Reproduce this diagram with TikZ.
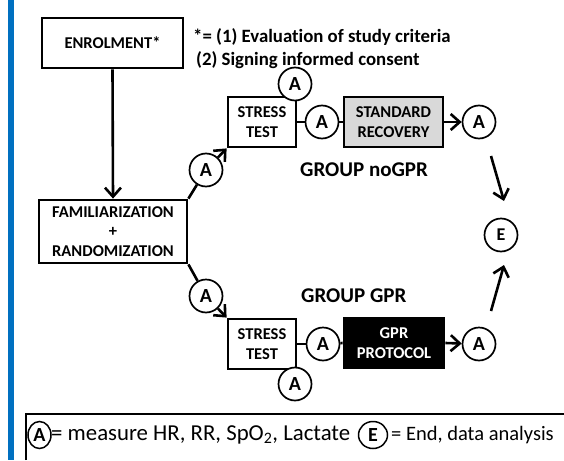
\documentclass[tikz,border=0pt]{standalone}
\usepackage{fontspec}
\setmainfont{Carlito}[Ligatures={NoCommon}]
\usetikzlibrary{arrows.meta,shapes.geometric}
\definecolor{barblue}{HTML}{0070C0}
\definecolor{recgray}{HTML}{D9D9D9}
\newcommand{\boxfont}{\bfseries\fontsize{16.5}{19.5}\selectfont}
\tikzset{
  stagebox/.style={draw, line width=2.8pt, align=center, inner sep=0pt, font=\boxfont},
  meas/.style={circle, draw, line width=1.7pt, fill=white, minimum size=33pt, inner sep=0pt, font=\bfseries\fontsize{20}{20}\selectfont},
  conn/.style={line width=2.6pt},
  arr/.style={conn, -{Straight Barb[length=9pt,width=16pt]}},
  grouplab/.style={anchor=west, inner sep=0pt, font=\bfseries\fontsize{21}{21}\selectfont},
  notelab/.style={anchor=west, inner sep=0pt, font=\bfseries\fontsize{18.8}{18.8}\selectfont},
  legtext/.style={anchor=west, inner sep=0pt, font=\fontsize{22.8}{22.8}\selectfont},
  legmark/.style={ellipse, draw, line width=1.5pt, inner sep=0pt, font=\bfseries\fontsize{20}{20}\selectfont}
}
\begin{document}
\begin{tikzpicture}[x=1pt,y=-1pt]
\useasboundingbox (0,0) rectangle (564,460);
\fill[white] (0,0) rectangle (564,460);
\fill[barblue] (8,0) rectangle (14,460);

% boxes
\node[stagebox, minimum width=141pt, minimum height=50pt] (enrol) at (112.5,43) {ENROLMENT*};
\node[stagebox, minimum width=148pt, minimum height=63pt] (fam) at (113,231.5) {FAMILIARIZATION\\+\\RANDOMIZATION};
\node[stagebox, minimum width=68pt, minimum height=50pt] (st1) at (262,122) {STRESS\\TEST};
\node[stagebox, fill=recgray, minimum width=99pt, minimum height=50pt] (sr) at (393.5,122) {STANDARD\\RECOVERY};
\node[stagebox, minimum width=68pt, minimum height=50pt] (st2) at (262,344) {STRESS\\TEST};
\node[stagebox, fill=black, text=white, minimum width=100pt, minimum height=50pt] (gpr) at (394,343) {GPR\\PROTOCOL};

% measurement circles
\node[meas] (atop) at (295,84) {A};
\node[meas] (amid1) at (322,122) {A};
\node[meas] (aend1) at (479,122) {A};
\node[meas] (aul) at (206,170) {A};
\node[meas] (all) at (206,296) {A};
\node[meas] (amid2) at (323,344) {A};
\node[meas] (abot) at (295,384) {A};
\node[meas] (aend2) at (479,344) {A};
\node[meas, font=\bfseries\fontsize{18}{18}\selectfont] (endc) at (501,235) {E};

% free ends of the arrows towards E
\coordinate (d1) at (491,156);
\coordinate (d2) at (504,201);
\coordinate (u1) at (491,311);
\coordinate (u2) at (504,265);

% connectors
\draw[arr] (enrol.south) -- (fam.north);
\draw[conn] (fam.north east) -- (aul);
\draw[arr] (aul) -- (st1.south west);
\draw[conn] (fam.south east) -- (all);
\draw[arr] (all) -- (st2.north west);
\draw[conn] (st1.east) -- (amid1);
\draw[conn] (amid1) -- (sr.west);
\draw[arr] (sr.east) -- (aend1);
\draw[conn] (st2.east) -- (amid2);
\draw[conn] (amid2) -- (gpr.west);
\draw[arr] (gpr.east) -- (aend2);
\draw[arr] (d1) -- (d2);
\draw[arr] (u1) -- (u2);

% labels
\node[notelab] (note1) at (193,37) {*= (1) Evaluation of study criteria};
\node[notelab] (note2) at (196,60) {(2) Signing informed consent};
\node[grouplab] (gno) at (300,170) {GROUP noGPR};
\node[grouplab] (gyes) at (301,296) {GROUP GPR};

% legend
\draw[line width=1.8pt] (26,460) -- (26,414) -- (564,414);
\node[legmark, minimum width=23pt, minimum height=27pt] (legA) at (39.5,435) {A};
\node[legtext] (legAtxt) at (51,435) {= measure HR, RR, SpO\textsubscript{2}, Lactate};
\node[legmark, minimum width=29pt, minimum height=27pt] (legE) at (373,435) {E};
\node[legtext, font=\fontsize{20.5}{20.5}\selectfont] (legEtxt) at (391,435) {= End, data analysis};
\end{tikzpicture}
\end{document}
